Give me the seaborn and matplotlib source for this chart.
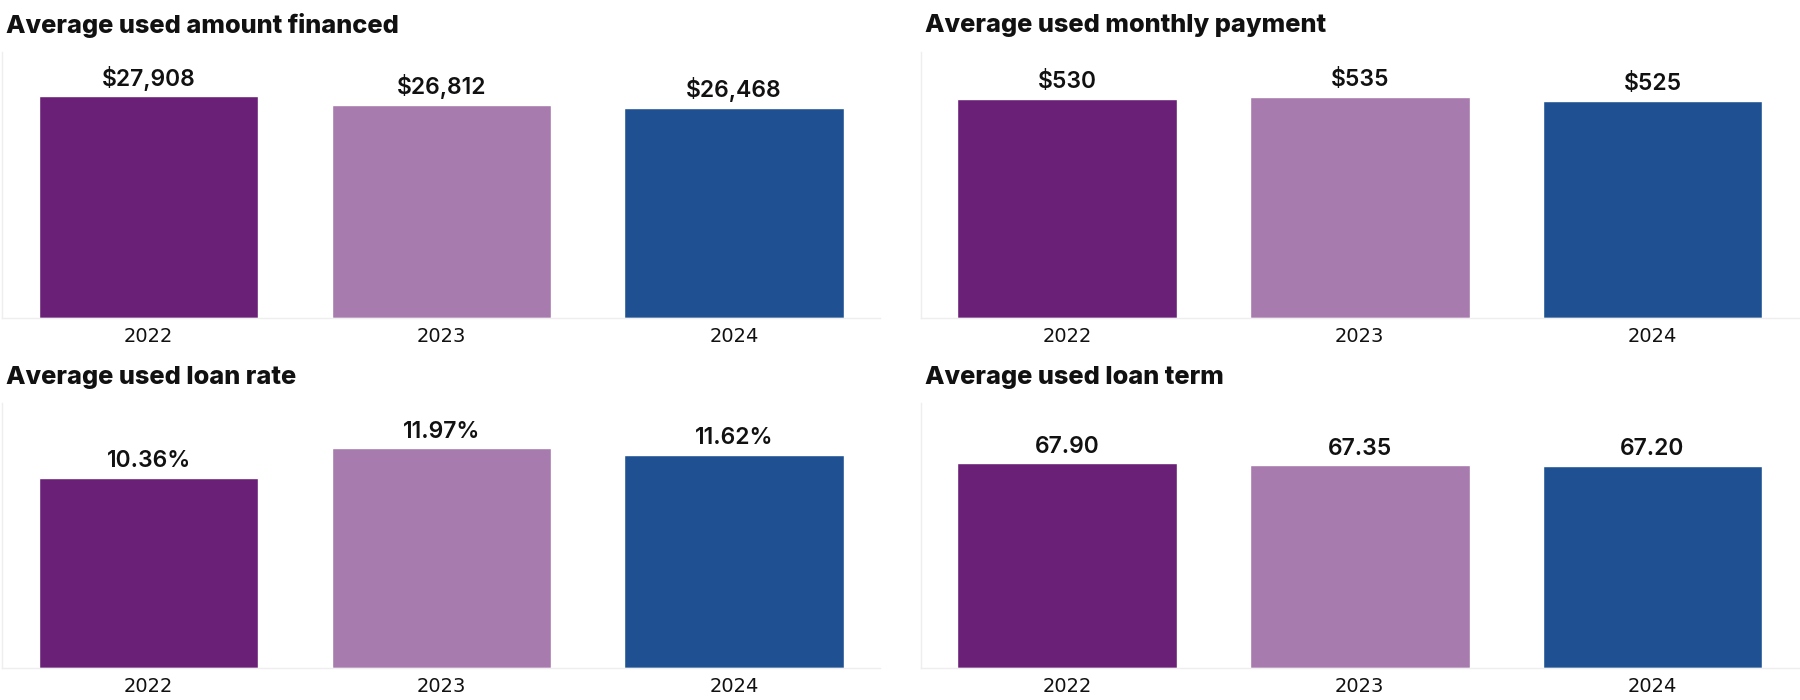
import matplotlib
matplotlib.use("Agg")
import matplotlib.pyplot as plt
import seaborn as sns
import pandas as pd

years = ["2022", "2023", "2024"]
amount_financed = [27908, 26812, 26468]
monthly_payment = [530, 535, 525]
loan_rate = [10.36, 11.97, 11.62]
loan_term = [67.90, 67.35, 67.20]

titles = ["Average used amount financed", "Average used monthly payment",
          "Average used loan rate", "Average used loan term"]
colors = ["#6B2077", "#A77BAD", "#1F5192"]

sns.set_theme(style="white")
plt.rcParams['font.family'] = ['Inter', 'DejaVu Sans']

fig = plt.figure(figsize=(18, 7), dpi=100)
W, H = 1568.0, 608.0
panels = [
    (amount_financed, lambda v: f"${v:,.0f}", 33500, (2, 45, 767, 276), (5, 22)),
    (monthly_payment, lambda v: f"${v:,.0f}", 644, (802, 45, 1567, 276), (806, 22)),
    (loan_rate, lambda v: f"{v:.2f}%", 14.43, (2, 350, 767, 580), (5, 328)),
    (loan_term, lambda v: f"{v:.2f}", 88.0, (802, 350, 1567, 580), (806, 328)),
]

for (vals, fmt, ymax, (x0, y0, x1, y1), (tx, ty)), title in zip(panels, titles):
    ax = fig.add_axes([x0 / W, 1 - y1 / H, (x1 - x0) / W, (y1 - y0) / H])
    df = pd.DataFrame({"year": years, "value": vals})
    sns.barplot(data=df, x="year", y="value", hue="year", palette=colors,
                width=0.75, legend=False, ax=ax, saturation=1)
    ax.set_xlim(-0.5, 2.5)
    ax.set_ylim(0, ymax)
    ax.set_xlabel("")
    ax.set_ylabel("")
    ax.set_yticks([])
    ax.tick_params(axis="x", length=0, pad=7, colors="#111111")
    for lab in ax.get_xticklabels():
        lab.set_fontfamily("DejaVu Sans")
        lab.set_fontsize(14)
    for s in ["top", "right"]:
        ax.spines[s].set_visible(False)
    for s in ["left", "bottom"]:
        ax.spines[s].set_color("#eeeeee")
        ax.spines[s].set_linewidth(1)
    for i, v in enumerate(vals):
        ax.annotate(fmt(v), (i, v), xytext=(0, 4), textcoords="offset points",
                    ha="center", va="bottom", fontsize=16.5, fontweight="semibold",
                    color="#111111")
    fig.text(tx / W, 1 - ty / H, title, ha="left", va="center",
             fontsize=18.3, fontweight="heavy", color="#111111")

fig.savefig("out.png", dpi=100, facecolor="white")
